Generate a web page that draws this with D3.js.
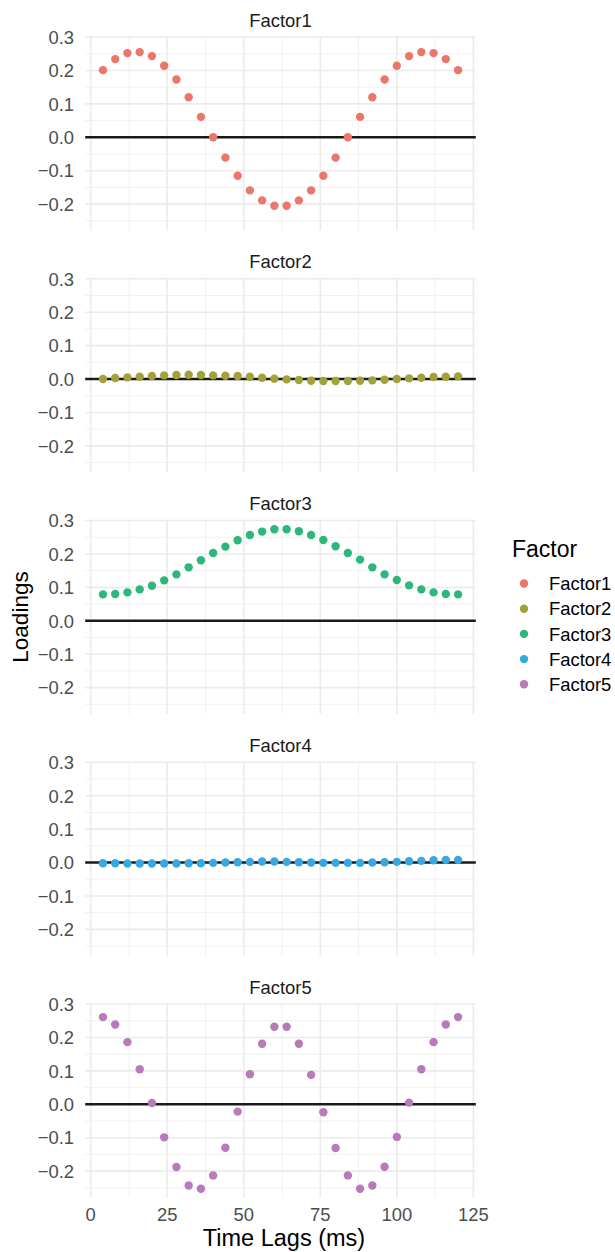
<!DOCTYPE html>
<html>
<head>
<meta charset="utf-8">
<script src="https://cdn.jsdelivr.net/npm/d3@7"></script>
<style>
  body { margin: 0; background: #fff; }
  svg text { font-family: "Liberation Sans", Arial, Helvetica, sans-serif; }
</style>
</head>
<body>
<svg id="chart" width="615" height="1252"></svg>
<script>
// time lags (ms)
var lags = [4, 8, 12, 16, 20, 24, 28, 32, 36, 40, 44, 48, 52, 56, 60,
            64, 68, 72, 76, 80, 84, 88, 92, 96, 100, 104, 108, 112, 116, 120]

var factors = ["Factor1", "Factor2", "Factor3", "Factor4", "Factor5"]
var colors = ["#EB766C", "#A2A13A", "#2DB87B", "#38A8E0", "#B87AB8"]

var factor1 = [0.201, 0.234, 0.252, 0.255, 0.243, 0.214, 0.173, 0.120, 0.061, 0.000,
               -0.061, -0.115, -0.159, -0.189, -0.205, -0.205, -0.189, -0.159, -0.115, -0.061,
               0.000, 0.061, 0.120, 0.173, 0.214, 0.243, 0.255, 0.252, 0.234, 0.201]
var factor2 = [0.000, 0.003, 0.005, 0.007, 0.009, 0.011, 0.012, 0.013, 0.012, 0.011,
               0.010, 0.009, 0.007, 0.004, 0.001, -0.001, -0.003, -0.005, -0.006, -0.006,
               -0.006, -0.005, -0.004, -0.002, 0.000, 0.002, 0.004, 0.006, 0.007, 0.008]
var factor3 = [0.079, 0.080, 0.085, 0.094, 0.105, 0.121, 0.139, 0.160, 0.181, 0.203,
               0.222, 0.241, 0.257, 0.267, 0.274, 0.274, 0.268, 0.257, 0.242, 0.223,
               0.203, 0.183, 0.160, 0.139, 0.122, 0.106, 0.094, 0.085, 0.080, 0.079]
var factor4 = [-0.002, -0.002, -0.003, -0.003, -0.003, -0.003, -0.003, -0.002, -0.002, -0.001,
               0.000, 0.001, 0.002, 0.003, 0.003, 0.002, 0.001, 0.000, -0.001, -0.001,
               -0.001, -0.001, 0.000, 0.001, 0.002, 0.004, 0.005, 0.007, 0.008, 0.008]
var factor5 = [0.261, 0.239, 0.186, 0.105, 0.004, -0.099, -0.188, -0.243, -0.253, -0.213,
               -0.130, -0.022, 0.090, 0.181, 0.232, 0.232, 0.181, 0.088, -0.024, -0.131,
               -0.213, -0.253, -0.243, -0.187, -0.098, 0.005, 0.105, 0.186, 0.239, 0.261]

var loadings = [factor1, factor2, factor3, factor4, factor5]

var xTicks = [0, 25, 50, 75, 100, 125]
var xMinor = [12.5, 37.5, 62.5, 87.5, 112.5]
var yTicks = [-0.2, -0.1, 0.0, 0.1, 0.2, 0.3]
var yMinor = [-0.25, -0.15, -0.05, 0.05, 0.15, 0.25]

var panelTop = 36.6, panelH = 194, step = 241.75
var svg = d3.select("#chart")

var x = d3.scaleLinear().domain([-1.8, 125.8]).range([85.2, 475.8])
var y = d3.scaleLinear().domain([-0.2794, 0.3014]).range([panelH, 0])

factors.forEach(function(f, i){
  var g = svg.append("g").attr("transform", "translate(0," + (panelTop + i * step) + ")")

  // minor grid
  g.selectAll(".xminor").data(xMinor).enter().append("line")
    .attr("x1", function(d){ return x(d) }).attr("x2", function(d){ return x(d) })
    .attr("y1", 0).attr("y2", panelH)
    .attr("stroke", "#EFEFEF").attr("stroke-width", 0.9)
  g.selectAll(".yminor").data(yMinor).enter().append("line")
    .attr("x1", x.range()[0]).attr("x2", x.range()[1])
    .attr("y1", function(d){ return y(d) }).attr("y2", function(d){ return y(d) })
    .attr("stroke", "#EFEFEF").attr("stroke-width", 0.9)

  // major grid
  g.selectAll(".xmajor").data(xTicks).enter().append("line")
    .attr("x1", function(d){ return x(d) }).attr("x2", function(d){ return x(d) })
    .attr("y1", 0).attr("y2", panelH)
    .attr("stroke", "#EBEBEB").attr("stroke-width", 1.6)
  g.selectAll(".ymajor").data(yTicks).enter().append("line")
    .attr("x1", x.range()[0]).attr("x2", x.range()[1])
    .attr("y1", function(d){ return y(d) }).attr("y2", function(d){ return y(d) })
    .attr("stroke", "#EBEBEB").attr("stroke-width", 1.6)

  // y tick labels
  g.selectAll(".ylab").data(yTicks).enter().append("text")
    .attr("x", 74).attr("y", function(d){ return y(d) + 6.8 })
    .attr("text-anchor", "end").attr("font-size", 18.4).attr("fill", "#4D4D4D")
    .text(function(d){ return d3.format(".1f")(d).replace("-", "\u2212") })

  // strip label
  g.append("text")
    .attr("x", (x.range()[0] + x.range()[1]) / 2).attr("y", -10)
    .attr("text-anchor", "middle").attr("font-size", 18.4).attr("fill", "#1A1A1A")
    .text(f)

  // zero line
  g.append("line")
    .attr("x1", x.range()[0]).attr("x2", x.range()[1])
    .attr("y1", y(0)).attr("y2", y(0))
    .attr("stroke", "#1A1A1A").attr("stroke-width", 2.7)

  // points
  g.selectAll("circle").data(loadings[i]).enter().append("circle")
    .attr("cx", function(d, j){ return x(lags[j]) })
    .attr("cy", function(d){ return y(d) })
    .attr("r", 4.2)
    .attr("fill", colors[i])
})

// x axis labels (bottom facet only)
svg.selectAll(".xlab").data(xTicks).enter().append("text")
  .attr("x", function(d){ return x(d) }).attr("y", 1220.5)
  .attr("text-anchor", "middle").attr("font-size", 18.4).attr("fill", "#4D4D4D")
  .text(function(d){ return d })

svg.append("text")
  .attr("x", 284).attr("y", 1246)
  .attr("text-anchor", "middle").attr("font-size", 23.5).attr("fill", "#000")
  .text("Time Lags (ms)")

svg.append("text")
  .attr("transform", "translate(28,617) rotate(-90)")
  .attr("text-anchor", "middle").attr("font-size", 22.5).attr("fill", "#000")
  .text("Loadings")

// legend
var legend = svg.append("g")
legend.append("text").attr("x", 512).attr("y", 557)
  .attr("font-size", 23).attr("fill", "#000").text("Factor")
var items = legend.selectAll(".item").data(factors).enter().append("g")
  .attr("transform", function(d, i){ return "translate(0," + (583.5 + i * 25.2) + ")" })
items.append("circle").attr("cx", 524).attr("cy", 0).attr("r", 4.2)
  .attr("fill", function(d, i){ return colors[i] })
items.append("text").attr("x", 549).attr("y", 6.6)
  .attr("font-size", 18.4).attr("fill", "#000").text(function(d){ return d })
</script>
</body>
</html>
